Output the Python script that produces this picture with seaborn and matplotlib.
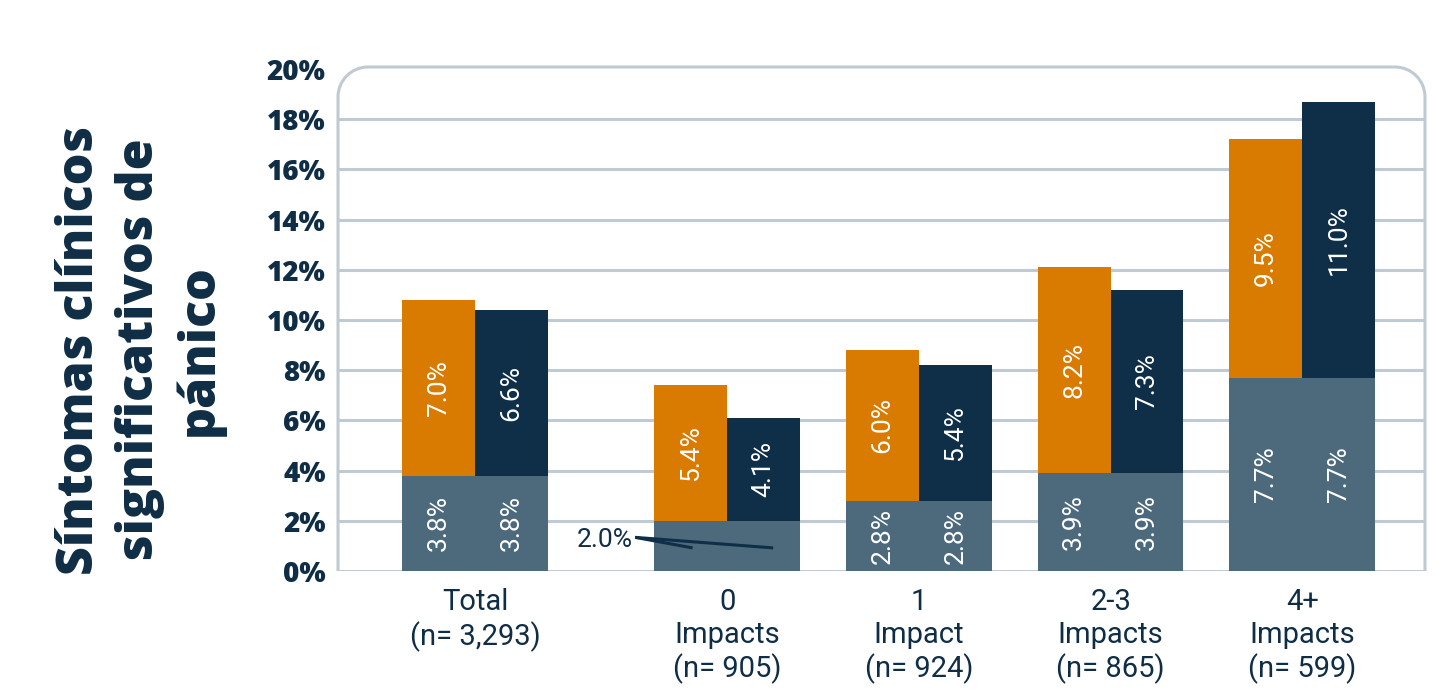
import numpy as np
import pandas as pd
import matplotlib
matplotlib.use("Agg")
import matplotlib.pyplot as plt
from matplotlib.path import Path
from matplotlib.patches import PathPatch
import seaborn as sns

# ---- data -------------------------------------------------------------
groups = [
    "Total\n(n= 3,293)",
    "0\nImpacts\n(n= 905)",
    "1\nImpact\n(n= 924)",
    "2-3\nImpacts\n(n= 865)",
    "4+\nImpacts\n(n= 599)",
]
base_pct = [3.8, 2.0, 2.8, 3.9, 7.7]      # shared lower segment
orange_pct = [7.0, 5.4, 6.0, 8.2, 9.5]    # upper segment, left bar
navy_pct = [6.6, 4.1, 5.4, 7.3, 11.0]     # upper segment, right bar
y_ticks = [0, 2, 4, 6, 8, 10, 12, 14, 16, 18, 20]
y_label = "Síntomas clínicos\nsignificativos de\npánico"

# ---- style ------------------------------------------------------------
sns.set_theme(style="white")
C_BASE = "#4d6a7c"
C_ORANGE = "#d97b00"
C_NAVY = "#0f2e47"
C_TEXT = "#0f2d45"
C_GRID = "#bfcad2"

x_pos = np.array([-1.315, 0, 1, 2, 3])   # "Total" set apart from the rest
half = 0.38                              # width of one half-bar

fig = plt.figure(figsize=(14.41, 6.98), dpi=100)
ax = fig.add_axes([338 / 1441, 127 / 698, 1087 / 1441, 502 / 698])
ax.patch.set_visible(False)

df = pd.DataFrame({"x": x_pos, "base": base_pct,
                   "orange": orange_pct, "navy": navy_pct})

sns.barplot(data=df, x="x", y="base", native_scale=True, width=2 * half,
            color=C_BASE, saturation=1, errorbar=None, linewidth=0, ax=ax)
ax.bar(df["x"] - half / 2, df["orange"], width=half, bottom=df["base"],
       color=C_ORANGE, linewidth=0)
ax.bar(df["x"] + half / 2, df["navy"], width=half, bottom=df["base"],
       color=C_NAVY, linewidth=0)

# ---- value labels -----------------------------------------------------
lab_kw = dict(rotation=90, ha="center", va="center", color="white",
              fontsize=19, family="Roboto", fontweight="normal")
for xc, b, o, n in zip(x_pos, base_pct, orange_pct, navy_pct):
    ax.text(xc - half / 2, b + o / 2, f"{o:.1f}%", **lab_kw)
    ax.text(xc + half / 2, b + n / 2, f"{n:.1f}%", **lab_kw)
    if b >= 2.5:
        ax.text(xc - half / 2, b / 2, f"{b:.1f}%", **lab_kw)
        ax.text(xc + half / 2, b / 2, f"{b:.1f}%", **lab_kw)
    else:
        # thin segment: label outside with leader lines to both halves
        tx, ty = xc - 0.49, b * 0.62
        ax.text(tx, ty, f"{b:.1f}%", ha="right", va="center", color=C_TEXT,
                fontsize=19, family="Roboto", fontweight="normal")
        for dx, frac in ((-half / 2 + 0.01, 0.46), (half / 2 + 0.05, 0.46)):
            ax.plot([tx + 0.01, xc + dx], [ty + 0.1, b * frac],
                    color=C_NAVY, lw=2.2, solid_capstyle="butt", zorder=5)

# ---- axes -------------------------------------------------------------
ax.set_xlim(-2.03, 3.64)
ax.set_ylim(0, 20)
ax.set_yticks(y_ticks)
ax.set_yticklabels([f"{t}%" for t in y_ticks], fontsize=20,
                   family="Open Sans", fontweight="heavy", color=C_TEXT)
ax.set_xticks(x_pos)
ax.set_xticklabels(groups, fontsize=21, family="Roboto", fontweight="normal",
                   color=C_TEXT, linespacing=1.22)
ax.tick_params(axis="both", length=0)
ax.tick_params(axis="x", pad=12)
ax.tick_params(axis="y", pad=9)
ax.set_xlabel("")
ax.set_ylabel("")
for s in ax.spines.values():
    s.set_visible(False)

ax.set_axisbelow(True)
ax.grid(axis="y", color=C_GRID, lw=2.2)
ax.grid(axis="x", visible=False)
ax.yaxis.get_gridlines()[-1].set_visible(False)

# rounded frame around the plot area (top corners rounded)
p = ax.get_position()
W, H = fig.get_size_inches()
L, R, B, T = p.x0 * W, p.x1 * W, p.y0 * H, p.y1 * H + 0.02
r, k = 0.30, 0.5523
verts = [(L, B), (L, T - r),
         (L, T - r + k * r), (L + r - k * r, T), (L + r, T),
         (R - r, T),
         (R - r + k * r, T), (R, T - r + k * r), (R, T - r),
         (R, B)]
codes = [Path.MOVETO, Path.LINETO,
         Path.CURVE4, Path.CURVE4, Path.CURVE4,
         Path.LINETO,
         Path.CURVE4, Path.CURVE4, Path.CURVE4,
         Path.LINETO]
frame = PathPatch(Path(verts, codes), fill=False, edgecolor=C_GRID, lw=2.2,
                  transform=fig.dpi_scale_trans, clip_on=False, zorder=0)
fig.add_artist(frame)

fig.text(140 / 1441, 1 - 350 / 698, y_label, rotation=90, ha="center",
         va="center", fontsize=36, family="Open Sans", fontweight="heavy",
         color=C_TEXT, linespacing=1.25, multialignment="center")

fig.savefig("out.png", dpi=100)
